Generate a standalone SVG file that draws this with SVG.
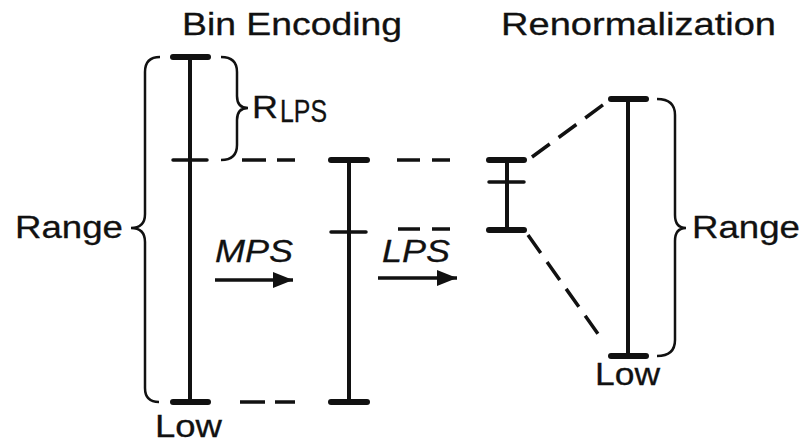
<svg xmlns="http://www.w3.org/2000/svg" width="804" height="443" viewBox="0 0 804 443">
  <style>
    text { font-family: "Liberation Sans", Arial, sans-serif; font-size: 32px; fill: #111; stroke: #111; stroke-width: 0.3; }
    .it { font-style: italic; }
    .bar { stroke: #111; stroke-width: 4; fill: none; }
    .cap { stroke: #111; stroke-width: 6; stroke-linecap: round; }
    .tick { stroke: #111; stroke-width: 3.5; stroke-linecap: round; }
    .brace { stroke: #111; stroke-width: 2.5; fill: none; }
    .dash { stroke: #111; stroke-width: 3.5; fill: none; }
    .diag { stroke: #111; stroke-width: 3.5; fill: none; stroke-dasharray: 22 11; }
    .arrow { stroke: #111; stroke-width: 3.5; fill: none; marker-end: url(#head); }
  </style>
  <defs>
    <marker id="head" markerUnits="userSpaceOnUse" markerWidth="22" markerHeight="18" refX="20" refY="8" orient="auto">
      <path d="M0,0 L20,8 L0,16 Z" fill="#111"/>
    </marker>
  </defs>
  <rect width="804" height="443" fill="#fff"/>

  <g id="titles">
    <text x="182" y="35" textLength="220" lengthAdjust="spacingAndGlyphs">Bin Encoding</text>
    <text x="501" y="35" textLength="275" lengthAdjust="spacingAndGlyphs">Renormalization</text>
  </g>

  <g id="interval-initial">
    <line class="bar" x1="190" y1="57" x2="190" y2="402"/>
    <line class="cap" x1="173" y1="57" x2="208" y2="57"/>
    <line class="tick" x1="173" y1="160" x2="207" y2="160"/>
    <line class="cap" x1="173" y1="402" x2="208" y2="402"/>
    <path class="brace" d="M160,57 Q145,57 145,72 L145,214 Q145,228 131,228 Q145,228 145,242 L145,388 Q145,402 159,402"/>
    <text x="15" y="238" textLength="108" lengthAdjust="spacingAndGlyphs">Range</text>
    <path class="brace" d="M221,57 Q237,57 237,72 L237,96 Q237,108 248,108 Q237,108 237,120 L237,145 Q237,160 221,160"/>
    <text x="252" y="118" font-size="35" textLength="26" lengthAdjust="spacingAndGlyphs">R</text>
    <text x="280" y="122" font-size="21" textLength="47" lengthAdjust="spacingAndGlyphs">LPS</text>
    <text x="155" y="437" textLength="67" lengthAdjust="spacingAndGlyphs">Low</text>
  </g>

  <g id="interval-mps">
    <line class="bar" x1="349" y1="160" x2="349" y2="402"/>
    <line class="cap" x1="331" y1="160" x2="367" y2="160"/>
    <line class="tick" x1="331" y1="232" x2="366" y2="232"/>
    <line class="cap" x1="331" y1="402" x2="367" y2="402"/>
  </g>

  <g id="interval-lps">
    <line class="bar" x1="507" y1="160" x2="507" y2="230"/>
    <line class="cap" x1="489" y1="160" x2="524" y2="160"/>
    <line class="tick" x1="489" y1="182" x2="524" y2="182"/>
    <line class="cap" x1="489" y1="230" x2="524" y2="230"/>
  </g>

  <g id="interval-renorm">
    <line class="bar" x1="628" y1="99" x2="628" y2="356"/>
    <line class="cap" x1="611" y1="99" x2="646" y2="99"/>
    <line class="cap" x1="611" y1="356" x2="646" y2="356"/>
    <path class="brace" d="M657,99 Q675,99 675,115 L675,215 Q675,228 686,228 Q675,228 675,241 L675,340 Q675,356 657,356"/>
    <text x="692" y="238" textLength="108" lengthAdjust="spacingAndGlyphs">Range</text>
    <text x="595" y="385" textLength="65" lengthAdjust="spacingAndGlyphs">Low</text>
  </g>

  <g id="connectors">
    <line class="dash" x1="242" y1="160" x2="266" y2="160"/>
    <line class="dash" x1="277" y1="160" x2="295" y2="160"/>
    <line class="dash" x1="240" y1="402" x2="265" y2="402"/>
    <line class="dash" x1="275" y1="402" x2="295" y2="402"/>
    <line class="dash" x1="397" y1="160" x2="420" y2="160"/>
    <line class="dash" x1="432" y1="160" x2="450" y2="160"/>
    <line class="dash" x1="398" y1="229" x2="420" y2="229"/>
    <line class="dash" x1="432" y1="229" x2="450" y2="229"/>
    <line class="diag" x1="532" y1="157" x2="607" y2="102"/>
    <line class="diag" x1="528" y1="235" x2="603" y2="341"/>
    <line class="arrow" x1="215" y1="280" x2="293" y2="280"/>
    <line class="arrow" x1="378" y1="278" x2="457" y2="278"/>
    <text class="it" x="215" y="262" textLength="78" lengthAdjust="spacingAndGlyphs">MPS</text>
    <text class="it" x="382" y="262" textLength="68" lengthAdjust="spacingAndGlyphs">LPS</text>
  </g>
</svg>
